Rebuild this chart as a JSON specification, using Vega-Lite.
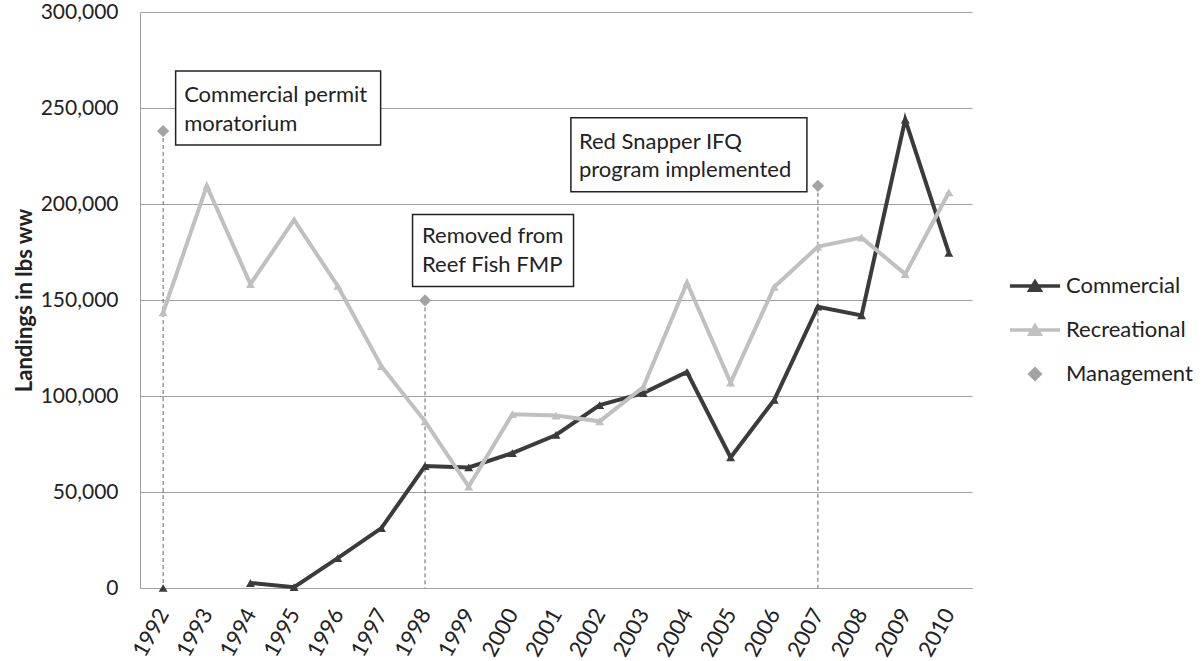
{
  "$schema": "https://vega.github.io/schema/vega-lite/v6.json",
  "width": 832,
  "height": 576,
  "autosize": {"type": "none"},
  "padding": {"left": 140, "top": 12, "right": 232, "bottom": 73},
  "background": "white",
  "config": {
    "font": "Lato",
    "view": {"stroke": null},
    "axis": {"labelColor": "#222222", "titleColor": "#222222"}
  },
  "data": {
    "values": [
      {"year": "1992", "series": "Commercial", "value": 0},
      {"year": "1993", "series": "Commercial", "value": null},
      {"year": "1994", "series": "Commercial", "value": 2600},
      {"year": "1995", "series": "Commercial", "value": 400},
      {"year": "1996", "series": "Commercial", "value": 15600},
      {"year": "1997", "series": "Commercial", "value": 31200},
      {"year": "1998", "series": "Commercial", "value": 63500},
      {"year": "1999", "series": "Commercial", "value": 62800},
      {"year": "2000", "series": "Commercial", "value": 70300},
      {"year": "2001", "series": "Commercial", "value": 79700},
      {"year": "2002", "series": "Commercial", "value": 95300},
      {"year": "2003", "series": "Commercial", "value": 101500},
      {"year": "2004", "series": "Commercial", "value": 112500},
      {"year": "2005", "series": "Commercial", "value": 68000},
      {"year": "2006", "series": "Commercial", "value": 98000},
      {"year": "2007", "series": "Commercial", "value": 146500},
      {"year": "2008", "series": "Commercial", "value": 142000},
      {"year": "2009", "series": "Commercial", "value": 244000},
      {"year": "2010", "series": "Commercial", "value": 174500},
      {"year": "1992", "series": "Recreational", "value": 143500},
      {"year": "1993", "series": "Recreational", "value": 209400},
      {"year": "1994", "series": "Recreational", "value": 158300},
      {"year": "1995", "series": "Recreational", "value": 191700},
      {"year": "1996", "series": "Recreational", "value": 157300},
      {"year": "1997", "series": "Recreational", "value": 115500},
      {"year": "1998", "series": "Recreational", "value": 86800},
      {"year": "1999", "series": "Recreational", "value": 52800},
      {"year": "2000", "series": "Recreational", "value": 90500},
      {"year": "2001", "series": "Recreational", "value": 89800},
      {"year": "2002", "series": "Recreational", "value": 86800},
      {"year": "2003", "series": "Recreational", "value": 104700},
      {"year": "2004", "series": "Recreational", "value": 159000},
      {"year": "2005", "series": "Recreational", "value": 107000},
      {"year": "2006", "series": "Recreational", "value": 156800},
      {"year": "2007", "series": "Recreational", "value": 177800},
      {"year": "2008", "series": "Recreational", "value": 182500},
      {"year": "2009", "series": "Recreational", "value": 163500},
      {"year": "2010", "series": "Recreational", "value": 206000},
      {"year": "1992", "series": "Management", "value": 238000, "note": "Commercial permit\n moratorium"},
      {"year": "1998", "series": "Management", "value": 149800, "note": "Removed from\n Reef Fish FMP"},
      {"year": "2007", "series": "Management", "value": 209500, "note": "Red Snapper IFQ\nprogram implemented"}
    ]
  },
  "encoding": {
    "x": {
      "field": "year",
      "type": "ordinal",
      "scale": {"type": "point", "padding": 0.53},
      "axis": {
        "title": null,
        "labelAngle": -61,
        "labelFontSize": 22,
        "labelPadding": 22,
        "ticks": false,
        "grid": false,
        "domain": true,
        "domainColor": "#a0a0a0",
        "domainWidth": 1
      }
    },
    "y": {
      "field": "value",
      "type": "quantitative",
      "scale": {"domain": [0, 300000], "nice": false},
      "axis": {
        "title": "Landings in lbs ww",
        "titleFontSize": 22,
        "titleFontWeight": "bold",
        "titleX": -116,
        "titleY": 288,
        "titleAngle": 270,
        "titleAlign": "center",
        "titleBaseline": "middle",
        "format": ",d",
        "values": [0, 50000, 100000, 150000, 200000, 250000, 300000],
        "labelFontSize": 21,
        "labelPadding": 22,
        "ticks": false,
        "grid": true,
        "gridColor": "#a0a0a0",
        "gridWidth": 1,
        "domain": true,
        "domainColor": "#a0a0a0"
      }
    }
  },
  "layer": [
    {
      "transform": [{"filter": "datum.series === 'Management'"}],
      "mark": {"type": "rule", "strokeDash": [4, 3], "color": "#666666", "strokeWidth": 1},
      "encoding": {"y2": {"datum": 0}}
    },
    {
      "transform": [{"filter": "datum.series !== 'Management'"}],
      "mark": {"type": "line", "strokeWidth": 4},
      "encoding": {
        "color": {
          "field": "series",
          "type": "nominal",
          "scale": {"domain": ["Commercial", "Recreational", "Management"], "range": ["#3b3b3b", "#c0c0c0", "#a3a3a3"]},
          "legend": {
            "orient": "none",
            "legendX": 871,
            "legendY": 250,
            "title": null,
            "padding": 0,
            "labelFontSize": 22,
            "labelColor": "#222222",
            "labelOffset": 7,
            "symbolSize": 1936,
            "rowPadding": 8,
            "encode": {
              "symbols": {
                "update": {
                  "shape": {"signal": "datum.value === 'Management' ? 'M0,-0.23L0.23,0L0,0.23L-0.23,0Z' : 'M-1.14,0H1.14M-0.23,0.19L0,-0.19L0.23,0.19Z'"},
                  "size": {"value": 1936},
                  "strokeWidth": {"value": 3.5},
                  "opacity": {"value": 1}
                }
              }
            }
          }
        }
      }
    },
    {
      "transform": [{"filter": "datum.series !== 'Management'"}],
      "mark": {"type": "point", "filled": true, "opacity": 1, "shape": "triangle-up", "size": 80},
      "encoding": {
        "color": {"field": "series", "type": "nominal"}
      }
    },
    {
      "transform": [{"filter": "datum.series === 'Management'"}],
      "mark": {"type": "point", "filled": true, "opacity": 1, "shape": "diamond", "size": 150},
      "encoding": {
        "color": {"field": "series", "type": "nominal"}
      }
    },
    {
      "transform": [{"filter": "datum.series === 'Management' && datum.year === '1992'"}],
      "layer": [
        {"mark": {"type": "rect", "width": 205, "height": 74, "xOffset": 115, "yOffset": -23, "fill": "white", "stroke": "#222222", "strokeWidth": 1.5}},
        {"mark": {"type": "text", "align": "left", "baseline": "middle", "dx": 21, "dy": -36, "lineHeight": 29, "lineBreak": "\n", "fontSize": 22, "color": "#222222"}, "encoding": {"text": {"field": "note"}}}
      ]
    },
    {
      "transform": [{"filter": "datum.series === 'Management' && datum.year === '1998'"}],
      "layer": [
        {"mark": {"type": "rect", "width": 161, "height": 72, "xOffset": 68, "yOffset": -50, "fill": "white", "stroke": "#222222", "strokeWidth": 1.5}},
        {"mark": {"type": "text", "align": "left", "baseline": "middle", "dx": -3, "dy": -64, "lineHeight": 29, "lineBreak": "\n", "fontSize": 22, "color": "#222222"}, "encoding": {"text": {"field": "note"}}}
      ]
    },
    {
      "transform": [{"filter": "datum.series === 'Management' && datum.year === '2007'"}],
      "layer": [
        {"mark": {"type": "rect", "width": 236, "height": 74, "xOffset": -129, "yOffset": -31, "fill": "white", "stroke": "#222222", "strokeWidth": 1.5}},
        {"mark": {"type": "text", "align": "left", "baseline": "middle", "dx": -239, "dy": -44, "lineHeight": 28, "lineBreak": "\n", "fontSize": 22, "color": "#222222"}, "encoding": {"text": {"field": "note"}}}
      ]
    }
  ]
}
